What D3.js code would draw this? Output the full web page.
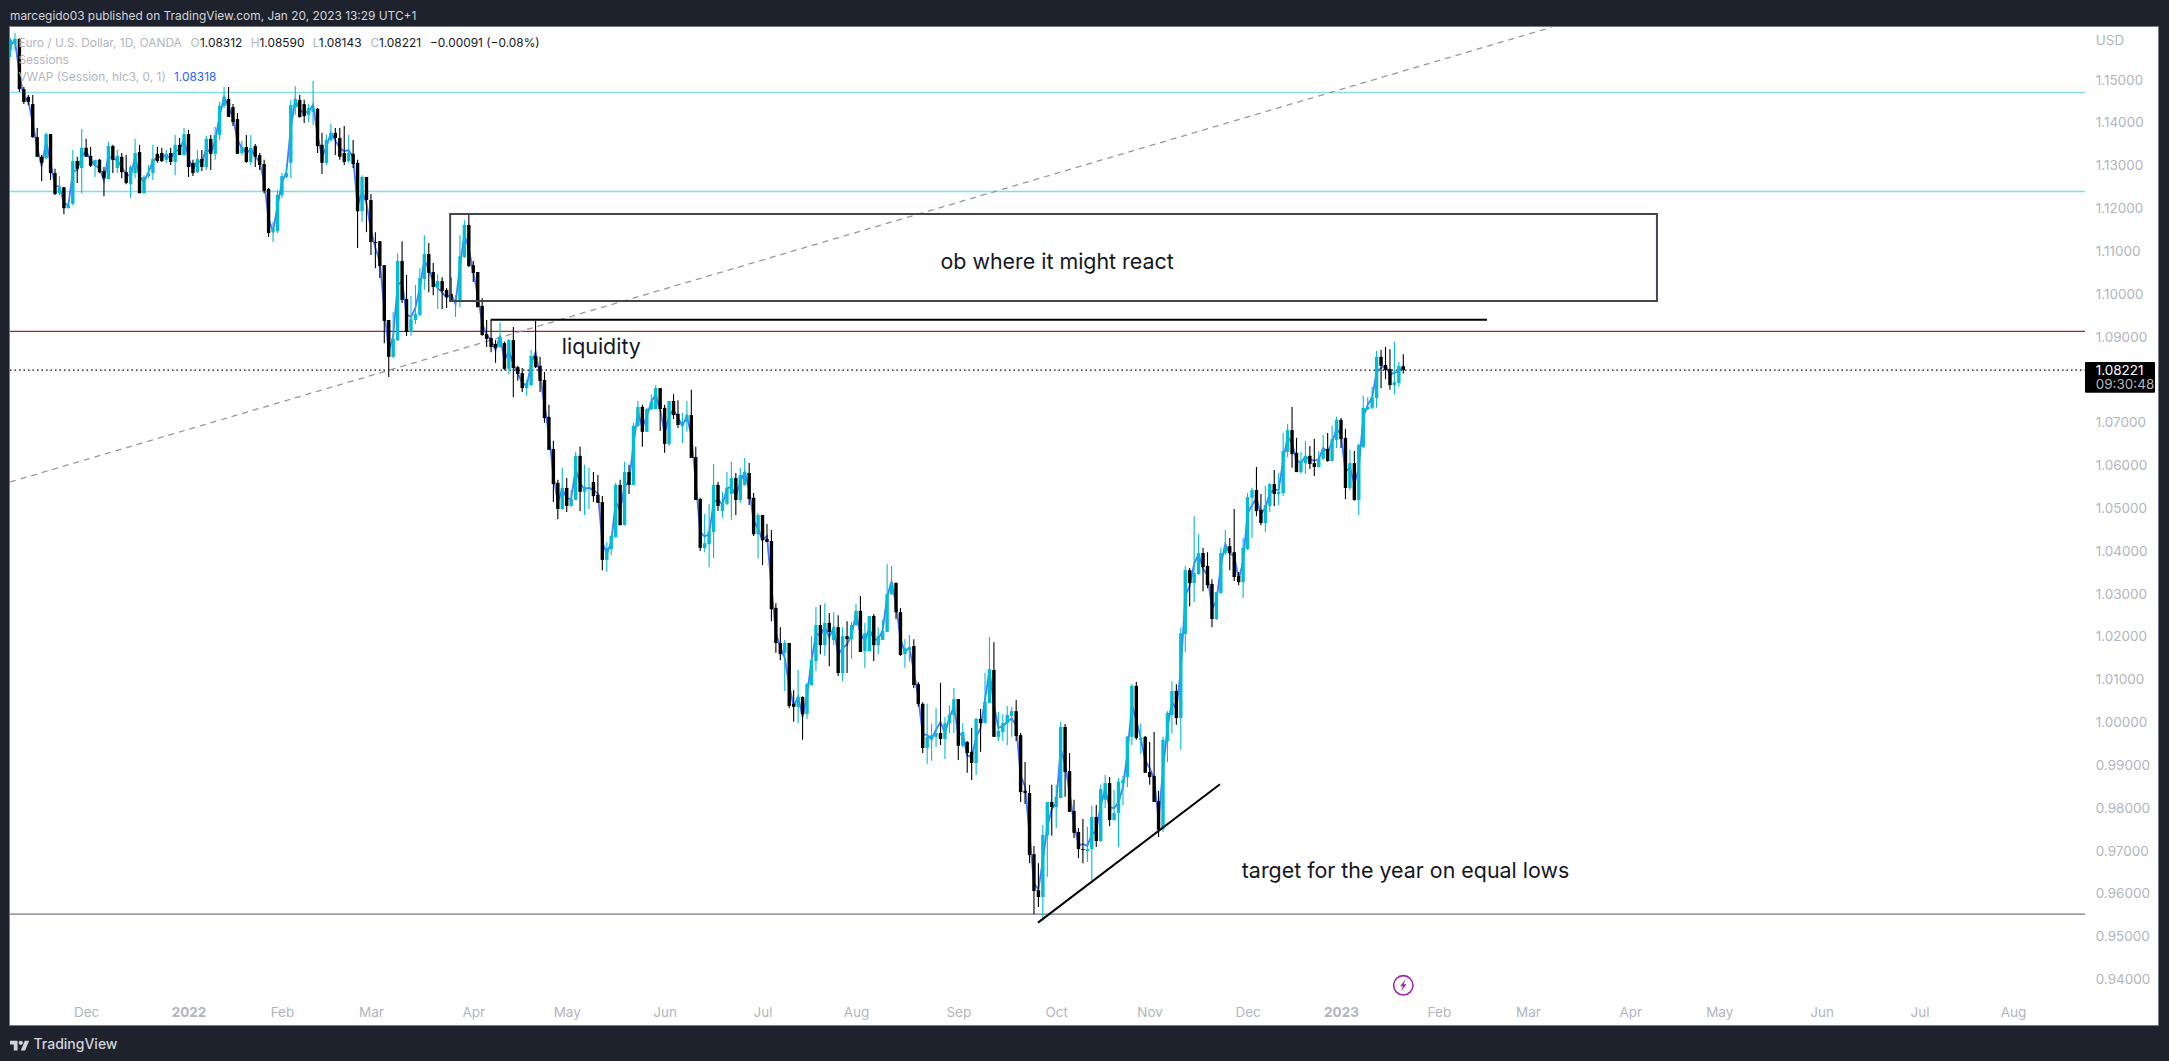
<!DOCTYPE html>
<html>
<head>
<meta charset="utf-8">
<script src="https://cdn.jsdelivr.net/npm/d3@7"></script>
<style>
  html, body { margin: 0; padding: 0; background: #1e222d; overflow: hidden; }
  svg { display: block; font-family: Inter, "Noto Sans", sans-serif; }
  .axis text { fill: #b2b5be; font-size: 13.5px; font-family: Inter, sans-serif; }
  .axis path, .axis line { display: none; }
</style>
</head>
<body>
<div id="chart"></div>
<script>
// EUR/USD daily, prices in 1/10000ths
var opens = [11569,11583,11595,11478,11460,11443,11366,11320,11317,11373,11282,11235,11249,11200,11210,11310,11294,11341,11322,11301,
11313,11287,11268,11345,11294,11320,11284,11256,11282,11331,11235,11275,11282,11327,11329,11313,11329,11308,11348,11324,
11373,11306,11284,11315,11296,11362,11327,11371,11439,11455,11436,11408,11329,11343,11308,11345,11324,11303,11245,11144,
11147,11231,11273,11306,11436,11453,11443,11418,11425,11432,11348,11306,11359,11376,11364,11329,11310,11327,11306,11193,
11273,11219,11121,11123,11067,10939,10853,10892,11077,10988,10911,10939,10951,11035,11093,11051,11016,11030,11009,11000,
10981,10983,11086,11161,11067,11051,10972,10906,10897,10883,10876,10885,10825,10892,10829,10815,10780,10787,10855,10832,
10799,10713,10638,10559,10498,10547,10505,10519,10622,10538,10547,10561,10531,10514,10379,10404,10432,10554,10460,10584,
10554,10692,10736,10678,10731,10731,10780,10734,10650,10750,10720,10692,10701,10717,10619,10521,10407,10416,10444,10554,
10493,10510,10533,10570,10519,10554,10582,10524,10439,10484,10428,10423,10267,10185,10162,10185,10043,10036,10059,10019,
10087,10143,10227,10180,10232,10192,10222,10115,10201,10194,10227,10260,10166,10166,10248,10180,10192,10211,10299,10325,
10257,10159,10169,10178,10089,10043,9940,9963,9966,9975,9961,9998,10017,10054,9945,9954,9931,9905,10008,9998,
10045,10122,9966,9977,9998,10015,10026,9970,9840,9835,9692,9608,9592,9737,9814,9802,9823,9989,9886,9793,
9744,9704,9699,9704,9779,9723,9819,9858,9772,9788,9858,9872,9966,10085,9959,9966,9884,9875,9816,9751,
9956,10017,10073,10010,10206,10355,10325,10346,10395,10365,10323,10241,10302,10395,10411,10397,10341,10327,10404,10524,
10542,10496,10465,10505,10556,10533,10535,10631,10682,10629,10584,10605,10622,10605,10596,10615,10638,10610,10659,10706,
10664,10547,10605,10519,10643,10731,10734,10757,10853,10834,10825,10787,10792,10831];
var highs = [11597,11609,11597,11483,11464,11464,11387,11324,11376,11373,11292,11275,11249,11214,11336,11320,11385,11362,11343,11313,
11315,11296,11355,11348,11336,11329,11324,11301,11362,11348,11277,11301,11348,11343,11341,11336,11341,11371,11364,11387,
11383,11313,11336,11336,11369,11371,11390,11448,11483,11483,11443,11422,11357,11371,11371,11350,11329,11313,11247,11168,
11242,11282,11301,11453,11485,11464,11453,11443,11497,11434,11376,11371,11397,11387,11387,11392,11371,11359,11313,11277,
11273,11233,11144,11123,11067,10939,10958,11095,11123,11044,10995,11021,11060,11137,11119,11072,11046,11039,11014,11039,
10997,11137,11172,11186,11077,11051,10990,10939,10939,10892,10934,10888,10895,10923,10832,10827,10799,10869,10937,10853,
10818,10741,10657,10566,10594,10570,10542,10631,10643,10601,10594,10584,10577,10528,10421,10437,10559,10566,10608,10601,
10699,10750,10741,10734,10766,10787,10780,10741,10750,10766,10752,10722,10750,10776,10643,10524,10486,10510,10603,10561,
10538,10584,10608,10582,10594,10617,10605,10535,10489,10484,10463,10449,10278,10222,10192,10185,10075,10122,10061,10092,
10201,10269,10274,10278,10255,10257,10250,10222,10236,10234,10276,10295,10232,10248,10253,10222,10239,10369,10365,10327,
10267,10194,10204,10194,10094,10047,10043,9998,10033,10092,10012,10040,10080,10054,9998,9956,9987,10010,10031,10115,
10199,10187,10024,10019,10038,10036,10052,9975,9907,9854,9711,9671,9760,9814,9854,9854,10001,9996,9928,9819,
9753,9774,9756,9805,9807,9854,9877,9872,9842,9870,9875,9968,10089,10094,9998,9968,9954,9977,9840,9966,
10026,10096,10089,10222,10365,10360,10481,10439,10407,10397,10334,10304,10407,10449,10430,10498,10351,10430,10535,10547,
10596,10533,10552,10559,10589,10582,10675,10696,10736,10664,10631,10657,10645,10661,10633,10671,10675,10692,10713,10710,
10685,10636,10633,10650,10762,10759,10783,10867,10869,10876,10871,10888,10841,10859];
var lows = [11553,11569,11471,11443,11441,11364,11320,11263,11315,11266,11231,11231,11186,11200,11207,11259,11235,11320,11296,11273,
11282,11228,11268,11282,11282,11270,11256,11224,11270,11235,11235,11270,11266,11306,11308,11306,11301,11277,11324,11324,
11273,11275,11282,11287,11289,11289,11313,11359,11434,11413,11392,11327,11324,11306,11301,11296,11289,11235,11133,11121,
11142,11224,11270,11270,11418,11411,11399,11401,11394,11329,11280,11301,11355,11324,11313,11301,11306,11294,11107,11168,
11144,11091,11060,11037,10885,10806,10850,10890,10979,10902,10902,10930,10948,11009,11004,10997,10965,10965,10967,10981,
10946,10969,11084,11063,11028,10969,10902,10876,10864,10839,10874,10822,10813,10759,10797,10771,10762,10785,10827,10771,
10699,10636,10514,10474,10496,10491,10503,10519,10493,10484,10498,10514,10512,10355,10351,10390,10432,10460,10460,10533,
10554,10689,10643,10678,10729,10731,10680,10629,10645,10708,10687,10652,10678,10617,10519,10400,10397,10362,10383,10493,
10477,10507,10472,10484,10512,10552,10507,10435,10383,10367,10421,10236,10162,10145,10073,10033,10001,9998,9959,10008,
10085,10120,10159,10155,10131,10180,10108,10096,10115,10148,10225,10164,10127,10166,10143,10159,10192,10211,10297,10241,
10155,10127,10141,10080,10036,9928,9903,9910,9942,9947,9914,9975,9975,9912,9942,9882,9865,9877,9931,9998,
10045,9966,9956,9956,9947,9966,9956,9814,9809,9671,9552,9569,9538,9639,9735,9753,9823,9826,9791,9730,
9683,9671,9674,9632,9709,9721,9800,9758,9770,9709,9807,9849,9947,9959,9926,9882,9854,9814,9732,9744,
9907,9973,9994,9935,10164,10271,10281,10344,10306,10313,10222,10239,10299,10390,10355,10330,10320,10290,10402,10430,
10481,10460,10444,10491,10505,10507,10528,10619,10594,10584,10580,10580,10591,10575,10594,10612,10608,10608,10640,10640,
10521,10542,10517,10484,10640,10729,10731,10734,10780,10801,10776,10766,10783,10814];
var closes = [11593,11595,11478,11448,11448,11366,11320,11306,11373,11282,11233,11249,11200,11207,11310,11292,11341,11320,11299,11313,
11284,11270,11345,11313,11322,11284,11259,11296,11329,11235,11273,11282,11315,11310,11310,11327,11308,11348,11324,11373,
11296,11282,11315,11296,11362,11327,11371,11439,11460,11413,11401,11327,11343,11308,11341,11320,11301,11240,11142,11151,
11231,11275,11282,11441,11455,11413,11415,11434,11434,11345,11306,11359,11376,11364,11320,11308,11329,11303,11193,11273,
11219,11121,11119,11065,10937,10853,10895,11077,10986,10911,10941,10953,11037,11093,11049,11016,11030,11007,10993,10981,
10986,11088,11161,11065,11049,10969,10904,10895,10876,10874,10899,10825,10892,10827,10813,10780,10792,10855,10829,10797,
10710,10636,10556,10498,10547,10505,10521,10622,10538,10549,10549,10528,10512,10379,10407,10435,10554,10460,10584,10554,
10692,10736,10678,10731,10748,10780,10731,10650,10750,10717,10694,10701,10717,10617,10519,10407,10418,10446,10554,10505,
10510,10547,10570,10519,10577,10584,10521,10439,10484,10425,10421,10264,10185,10159,10185,10038,10036,10059,10019,10089,
10145,10227,10180,10232,10211,10222,10115,10201,10194,10227,10260,10164,10208,10248,10180,10201,10213,10299,10325,10257,
10157,10173,10176,10087,10043,9940,9966,9970,9975,9961,9998,10017,10054,9945,9977,9928,9905,10008,9998,10047,
10124,9966,9980,9998,10017,10026,9968,9837,9835,9690,9606,9592,9737,9814,9802,9826,9989,9884,9791,9742,
9704,9702,9704,9779,9723,9844,9858,9772,9788,9861,9865,9966,10085,9963,9963,9882,9872,9814,9749,9959,
10022,10073,10010,10208,10355,10325,10348,10395,10362,10320,10241,10304,10395,10409,10395,10339,10327,10407,10526,10542,
10493,10465,10507,10556,10533,10538,10633,10682,10626,10584,10608,10622,10603,10596,10615,10638,10610,10661,10706,10661,
10547,10605,10519,10647,10734,10736,10759,10853,10832,10822,10787,10794,10832,10822];

var priceTicks = [1.15,1.14,1.13,1.12,1.11,1.10,1.09,1.07,1.06,1.05,1.04,1.03,1.02,1.01,1.00,0.99,0.98,0.97,0.96,0.95,0.94];
var monthBars = [17,40,61,81,104,125,147,169,190,213,235,256,278,299,321,341,364,384,407,429,450];
var monthNames = ['Dec','2022','Feb','Mar','Apr','May','Jun','Jul','Aug','Sep','Oct','Nov','Dec','2023','Feb','Mar','Apr','May','Jun','Jul','Aug'];

var cyanLevels = [1.14706, 1.1239];
var redLevel = 1.09127;
var grayLevel = 0.9552;
var lastPrice = 1.08221;
var ray = [[-0.1, 1.05609], [346.3, 1.16223]];
var trendLine = [[230.9, 0.95322], [271.8, 0.98553]];
var liquidityLine = [[107.9, 1.09398], [331.8, 1.09398]];
var obBox = { x0: 98.8, x1: 370, top: 1.11865, bottom: 1.09834 };

var width = 2169, height = 1061;
var plot = { left: 10, top: 27, right: 2158, bottom: 1025, scale: 2085 };

var x = d3.scaleLinear().domain([0, 313]).range([10.5, 1403.3]);
var y = d3.scaleLinear().domain([0.94, 1.15]).range([979.3, 79.7]);

var svg = d3.select('#chart').append('svg')
    .attr('width', width)
    .attr('height', height);

svg.append('rect')
    .attr('width', width).attr('height', height)
    .attr('fill', '#1e222d');

svg.append('rect')
    .attr('x', plot.left - 0.5).attr('y', plot.top - 0.5)
    .attr('width', plot.right - plot.left + 1).attr('height', plot.bottom - plot.top + 1)
    .attr('fill', '#fff')
    .attr('stroke', '#787b86');

svg.append('clipPath').attr('id', 'pane')
  .append('rect')
    .attr('x', plot.left).attr('y', plot.top)
    .attr('width', plot.scale - plot.left).attr('height', plot.bottom - plot.top);

var pane = svg.append('g').attr('clip-path', 'url(#pane)');

function hline(price, color, width, dash) {
  pane.append('line')
      .attr('x1', plot.left).attr('x2', plot.scale)
      .attr('y1', y(price)).attr('y2', y(price))
      .attr('stroke', color)
      .attr('stroke-width', width)
      .attr('stroke-dasharray', dash || null);
}

cyanLevels.forEach(function(p) { hline(p, '#7ee0ea', 1.3); });
hline(redLevel, '#a82424', 1.2);
hline(grayLevel, '#787b86', 1.2);
hline(lastPrice, '#000', 1.3, '1.5 3');

var segment = d3.line()
    .x(function(d) { return x(d[0]); })
    .y(function(d) { return y(d[1]); });

pane.append('path')
    .attr('d', segment(ray))
    .attr('fill', 'none')
    .attr('stroke', '#9598a1')
    .attr('stroke-width', 1.3)
    .attr('stroke-dasharray', '6 5');

// VWAP session, on a daily chart that is just hlc3
var bars = d3.range(opens.length).map(function(i) {
  return {
    i: i,
    o: opens[i] / 10000,
    h: highs[i] / 10000,
    l: lows[i] / 10000,
    c: closes[i] / 10000
  };
});

pane.append('path')
    .attr('d', d3.line()
      .x(function(d) { return x(d.i); })
      .y(function(d) { return y((d.h + d.l + d.c) / 3); })(bars))
    .attr('fill', 'none')
    .attr('stroke', '#2962ff')
    .attr('stroke-opacity', 0.85)
    .attr('stroke-width', 1.8);

var barColor = function(d) { return d.c >= d.o ? '#00bcd4' : '#000'; };
var candle = pane.selectAll('g.candle').data(bars).enter().append('g').attr('class', 'candle');

candle.append('line')
    .attr('x1', function(d) { return x(d.i); })
    .attr('x2', function(d) { return x(d.i); })
    .attr('y1', function(d) { return y(d.h); })
    .attr('y2', function(d) { return y(d.l); })
    .attr('stroke', barColor)
    .attr('stroke-width', 1.1);

candle.append('rect')
    .attr('x', function(d) { return x(d.i) - 1.7; })
    .attr('width', 3.4)
    .attr('y', function(d) { return y(Math.max(d.o, d.c)); })
    .attr('height', function(d) { return Math.max(1, Math.abs(y(d.o) - y(d.c))); })
    .attr('fill', barColor);

// drawings
pane.append('rect')
    .attr('x', x(obBox.x0)).attr('width', x(obBox.x1) - x(obBox.x0))
    .attr('y', y(obBox.top)).attr('height', y(obBox.bottom) - y(obBox.top))
    .attr('fill', 'none')
    .attr('stroke', '#434651')
    .attr('stroke-width', 2);

[liquidityLine, trendLine].forEach(function(pts) {
  pane.append('path')
      .attr('d', segment(pts))
      .attr('fill', 'none')
      .attr('stroke', '#000')
      .attr('stroke-width', 2);
});

function note(label, bar, price, anchor) {
  pane.append('text')
      .attr('x', x(bar)).attr('y', y(price))
      .attr('dy', '0.35em')
      .attr('text-anchor', anchor)
      .attr('fill', '#131722')
      .style('font-size', '21.4px')
      .text(label);
}
note('ob where it might react', 235.2, 1.10756, 'middle');
note('liquidity', 123.9, 1.0878, 'start');
note('target for the year on equal lows', 276.7, 0.9655, 'start');

// axes
svg.append('g')
    .attr('class', 'axis')
    .attr('transform', 'translate(' + plot.scale + ',0)')
    .call(d3.axisRight(y)
      .tickValues(priceTicks)
      .tickSize(0)
      .tickPadding(10.7)
      .tickFormat(d3.format('.5f')))
    .call(function(g) { g.select('.domain').remove(); });

var timeAxis = svg.append('g')
    .attr('class', 'axis')
    .attr('transform', 'translate(0,1000)')
    .call(d3.axisBottom(x)
      .tickValues(monthBars)
      .tickSize(0)
      .tickPadding(7)
      .tickFormat(function(d, i) { return monthNames[i]; }));
timeAxis.select('.domain').remove();
timeAxis.selectAll('text')
    .style('font-weight', function(d, i) { return monthNames[i].length === 4 ? 700 : 400; });

svg.append('text')
    .attr('x', 2095.7).attr('y', 40.7).attr('dy', '0.35em')
    .attr('fill', '#b2b5be').style('font-size', '13.5px')
    .text('USD');

// last price tag
svg.append('rect')
    .attr('x', plot.scale).attr('y', 362)
    .attr('width', 70).attr('height', 30.7)
    .attr('rx', 1)
    .attr('fill', '#000');
svg.append('text')
    .attr('x', 2095.7).attr('y', 370.7).attr('dy', '0.35em')
    .attr('fill', '#fff').style('font-size', '13.5px')
    .text('1.08221');
svg.append('text')
    .attr('x', 2095.7).attr('y', 384.3).attr('dy', '0.35em')
    .attr('fill', '#b2b5be').style('font-size', '13.5px')
    .text('09:30:48');

// legend
function label(txt, px, py, color) {
  svg.append('text')
      .attr('x', px).attr('y', py).attr('dy', '0.35em')
      .attr('fill', color)
      .style('font-size', '11.9px')
      .text(txt);
}
var muted = '#b2b5be', ink = '#131722';
label('marcegido03 published on TradingView.com, Jan 20, 2023 13:29 UTC+1', 10, 15.7, '#d1d4dc');
label('Euro / U.S. Dollar, 1D, OANDA', 18.4, 42.7, muted);
label('O', 190.6, 42.7, muted);
label('1.08312', 200, 42.7, ink);
label('H', 250.7, 42.7, muted);
label('1.08590', 259.5, 42.7, ink);
label('L', 312.7, 42.7, muted);
label('1.08143', 318.8, 42.7, ink);
label('C', 370.4, 42.7, muted);
label('1.08221', 378.9, 42.7, ink);
label('\u22120.00091 (\u22120.08%)', 430, 42.7, ink);
label('Sessions', 18.4, 59.7, muted);
label('VWAP (Session, hlc3, 0, 1)', 18.4, 76.7, muted);
label('1.08318', 174, 76.7, '#2962ff');

// dividend style flash mark under the last bar
var flash = svg.append('g').attr('transform', 'translate(' + x(313) + ',985.3)');
flash.append('circle')
    .attr('r', 9.7)
    .attr('fill', '#fff')
    .attr('stroke', '#9c27b0')
    .attr('stroke-width', 1.6);
flash.append('path')
    .attr('d', 'M2.2,-6 L-3.2,1 L-0.4,1 L-2.2,6 L3.2,-1 L0.4,-1 Z')
    .attr('fill', '#9c27b0');

// footer logo
svg.append('g')
    .attr('transform', 'translate(10,1038.5) scale(0.54)')
  .append('path')
    .attr('d', 'M14 22H7V11H0V4h14v18zM28 22h-8l7.5-18h8L28 22zM20 4a4 4 0 1 1 0 8 4 4 0 0 1 0-8z')
    .attr('fill', '#d1d4dc');
svg.append('text')
    .attr('x', 33.5).attr('y', 1044).attr('dy', '0.35em')
    .attr('fill', '#d1d4dc')
    .style('font-size', '14px')
    .style('font-weight', 500)
    .text('TradingView');
</script>
</body>
</html>
